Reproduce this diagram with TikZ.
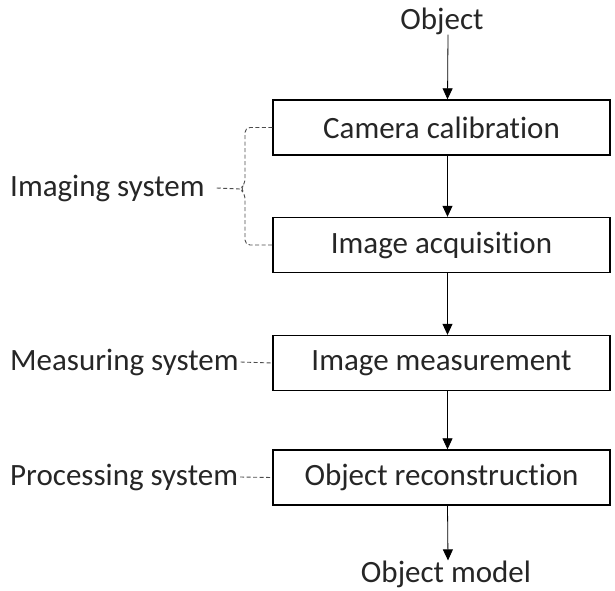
\documentclass[tikz,border=0pt]{standalone}
\usepackage{fontspec}
\setmainfont{Carlito}[Ligatures={NoCommon}]
\usetikzlibrary{arrows.meta}
\tikzstyle{stepbox}=[rectangle, draw, line width=1.4pt, minimum width=337pt, minimum height=55pt, inner sep=0pt]
\tikzstyle{plain}=[inner sep=0pt]
\tikzstyle{flow}=[line width=0.8pt, -{Triangle[length=11pt, width=10pt]}]
\tikzstyle{dline}=[black!70, line width=0.9pt, dash pattern=on 4pt off 2.5pt]

\begin{document}
\begin{tikzpicture}[x=1pt, y=-1pt, font=\fontsize{31}{34}\selectfont, text=black!85]

\useasboundingbox (0,0) rectangle (615,590);

\node[plain] (obj) at (442,21) {Object};
\node[stepbox] (cam) at (441.5,127.5) {Camera calibration};
\node[stepbox] (acq) at (441.5,245) {Image acquisition};
\node[stepbox] (meas) at (441.5,363) {Image measurement};
\node[stepbox] (rec) at (441.5,477.5) {Object reconstruction};
\node[plain] (model) at (446,574) {Object model};

\node[plain, anchor=west] (img) at (10,188) {Imaging system};
\node[plain, anchor=west] (msys) at (10,362) {Measuring system};
\node[plain, anchor=west] (psys) at (10,477) {Processing system};
\coordinate (tip) at (240,189);

\draw[flow] ([xshift=6pt]obj.south) -- ([xshift=6pt]cam.north);
\draw[flow] ([xshift=6pt]cam.south) -- ([xshift=6pt]acq.north);
\draw[flow] ([xshift=6pt]acq.south) -- ([xshift=6pt]meas.north);
\draw[flow] ([xshift=6pt]meas.south) -- ([xshift=6pt]rec.north);
\draw[flow] ([xshift=6pt]rec.south) -- ([xshift=2pt]model.north);

\draw[dline, rounded corners=5pt] (cam.west) -| (245,184) -- (tip) -- (245,194) |- (acq.west);
\draw[dline] ([xshift=12pt]img.east) -- (tip);
\draw[dline] ([xshift=2pt]msys.east) -- (meas.west);
\draw[dline] ([xshift=2pt]psys.east) -- (rec.west);

\end{tikzpicture}
\end{document}
